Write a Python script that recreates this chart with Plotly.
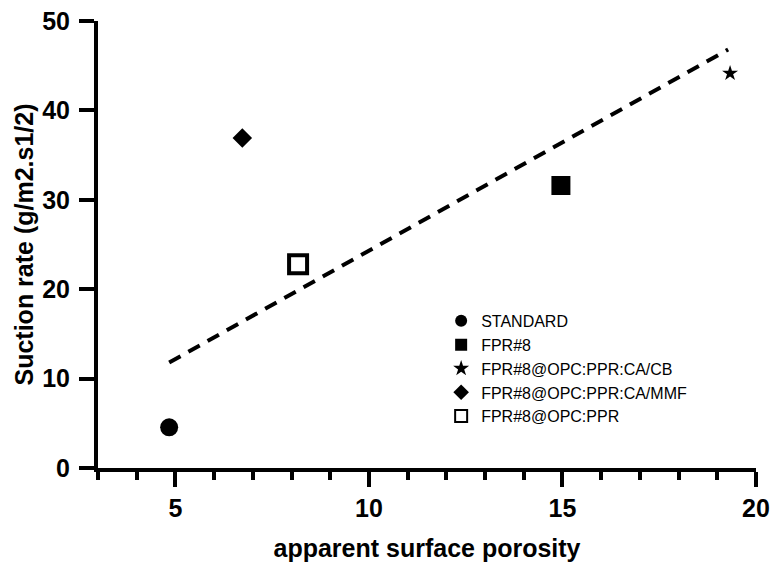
import plotly.graph_objects as go

# Data
series_names = ["STANDARD", "FPR#8", "FPR#8@OPC:PPR:CA/CB", "FPR#8@OPC:PPR:CA/MMF", "FPR#8@OPC:PPR"]
porosity = [4.84, 14.96, 19.33, 6.73, 8.17]
suction_rate = [4.55, 31.6, 44.15, 36.9, 22.8]
symbols = ["circle", "square", "star", "diamond", "square-open"]
marker_sizes = [18, 19, 12, 15, 18]

trend_x = [4.84, 19.28]
trend_y = [11.8, 46.8]

x_tick_vals = [5, 10, 15, 20]
y_tick_vals = [0, 10, 20, 30, 40, 50]

FONT = "Liberation Sans, Arial, sans-serif"

fig = go.Figure()

fig.add_trace(go.Scatter(
    x=trend_x, y=trend_y, mode="lines",
    line=dict(color="black", width=4, dash="13px,9px"),
    showlegend=False, hoverinfo="skip",
))

for name, xv, yv, sym, sz in zip(series_names, porosity, suction_rate, symbols, marker_sizes):
    lw = 4 if sym.endswith("open") else 0
    fig.add_trace(go.Scatter(
        x=[xv], y=[yv], mode="markers", name=name,
        marker=dict(symbol=sym, size=sz, color="black",
                    line=dict(width=lw, color="black")),
    ))

axis_common = dict(
    showline=True, linecolor="black", linewidth=4,
    ticks="outside", ticklen=15, tickwidth=4, tickcolor="black",
    showgrid=False, zeroline=False, automargin=False,
    ticklabeloverflow="allow",
    tickfont=dict(family=FONT, size=25, color="black", weight="bold"),
)

fig.update_xaxes(
    range=[3.001, 20.0], tickvals=x_tick_vals,
    minor=dict(ticks="outside", ticklen=8, tickwidth=4, tickcolor="black", dtick=1, tick0=0),
    title=dict(text="apparent surface porosity",
               font=dict(family=FONT, size=25, color="black", weight="bold"),
               standoff=22),
    **axis_common,
)
fig.update_yaxes(
    range=[0, 50], tickvals=y_tick_vals,
    ticklabelstandoff=4,
    title=dict(text="Suction rate (g/m2.s1/2)",
               font=dict(family=FONT, size=25, color="black", weight="bold"),
               standoff=2),
    **axis_common,
)

fig.update_layout(
    width=771, height=562,
    margin=dict(l=98, r=15, t=21, b=94),
    plot_bgcolor="white", paper_bgcolor="white",
    showlegend=True,
    legend=dict(
        x=0.5215, y=0.367, xanchor="left", yanchor="top",
        font=dict(family=FONT, size=16, color="black"),
        itemsizing="constant", itemwidth=30,
        bgcolor="rgba(0,0,0,0)", borderwidth=0,
    ),
)

fig.write_html(
    "out.html",
    config={"displayModeBar": False},
    post_script="document.body.style.margin='0';document.body.style.overflow='hidden';",
)
